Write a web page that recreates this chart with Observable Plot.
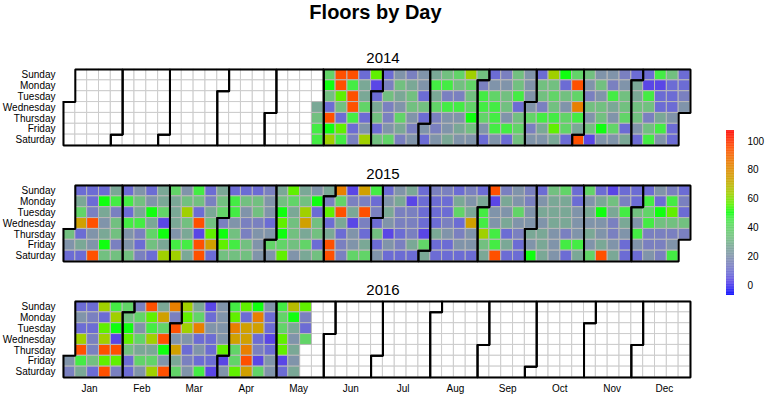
<!DOCTYPE html>
<html><head><meta charset="utf-8">
<script src="https://cdn.jsdelivr.net/npm/d3@7"></script>
<script src="https://cdn.jsdelivr.net/npm/@observablehq/plot@0.6"></script>
<style>
body{margin:0;background:#fff;}
#wrap{position:relative;width:767px;height:395px;overflow:hidden;font-family:"Liberation Sans",Arial,sans-serif;}
#title{position:absolute;left:0;top:1px;width:751px;text-align:center;font-weight:bold;font-size:20px;line-height:22px;}
#main{position:absolute;left:0;top:0;}
#legend{position:absolute;left:726px;top:120px;}
</style></head><body>
<div id="wrap"><div id="main"></div><div id="legend"></div><div id="title">Floors by Day</div></div>
<script>
const years = [2014, 2015, 2016];
const dayNames = ["Sunday","Monday","Tuesday","Wednesday","Thursday","Friday","Saturday"];
const monthNames = ["Jan","Feb","Mar","Apr","May","Jun","Jul","Aug","Sep","Oct","Nov","Dec"];
const legendTicks = [0, 20, 40, 60, 80, 100];

const start2014 = "2014-05-28";
const floors2014 = [
27,33,46,46,
40,50,33,8,95,50,63, 95,95,56,33,8,56,46, 95,46,95,95,46,8,14, 8,27,27,40,8,20,63,
56,2,8,27,33,8,33, 8,14,33,14,14,20,40, 20,33,27,20,40,27,14, 14,27,33,33,20,14,20,
20,20,8,33,8,20,8, 27,46,27,40,14,14,20, 33,46,14,46,20,20,27, 40,33,14,46,20,27,20,
63,40,33,40,50,33,20, 33,14,46,46,40,20,8, 8,20,40,46,46,46,20, 14,20,33,33,20,46,8,
33,33,46,8,33,40,33, 20,20,20,20,40,14,20, 8,33,33,14,46,27,20, 63,33,40,33,46,56,27,
50,8,33,20,40,40,8, 40,95,40,84,46,27,95, 33,20,14,33,20,33,2, 20,33,20,33,33,50,20,
20,14,46,27,20,40,20, 14,20,33,33,40,8,27, 8,27,27,33,33,20,8, 8,2,46,33,14,33,46,
46,2,8,8,27,46,20, 33,8,8,8,20,8,8,
8,8,14,20
];

const start2015 = "2015-01-01";
const floors2015 = [
33,20,8,
8,27,40,74,8,27,8, 8,8,14,95,20,20,95, 8,50,27,20,27,50,33, 27,46,14,33,33,14,33,
8,46,8,46,20,20,33, 20,33,27,46,14,8,14, 8,20,50,27,40,33,8, 27,27,40,2,50,27,63,
40,27,27,27,20,46,63, 20,33,63,33,27,46,27, 46,33,8,95,2,95,95, 8,14,27,33,56,74,8,
27,33,40,14,50,56,33, 8,46,46,20,33,46,33, 8,33,20,14,14,33,33, 8,33,33,14,20,20,20,
14,20,20,8,20,40,20, 27,33,50,56,50,40,56, 56,40,27,33,33,33,20, 27,33,63,74,27,40,27,
20,50,8,33,33,8,33, 27,14,56,8,27,95,95, 84,40,95,27,8,14,14, 2,14,27,2,20,20,40,
74,14,95,14,8,27,40, 46,8,14,8,33,8,20, 8,20,27,20,2,20,8, 20,27,14,14,8,14,8,
27,2,14,14,14,27,8, 8,8,8,8,2,40,27, 14,8,8,8,27,8,8, 14,8,8,14,20,8,8,
8,27,40,8,14,20,8, 14,20,27,74,20,20,8, 8,27,46,46,63,33,27, 95,2,20,20,46,46,95,
14,27,20,27,8,27,8, 20,20,40,20,14,8,8, 14,14,20,20,27,20,50, 8,20,27,20,27,27,27,
33,27,27,27,20,20,20, 40,27,27,27,14,46,8, 8,8,20,20,20,46,27, 40,20,27,20,27,20,40,
8,27,50,20,20,27,95, 2,33,27,14,14,20,27, 8,14,46,27,20,8,8, 8,8,33,20,46,20,8,
8,46,40,46,14,14,20, 20,8,50,33,14,14,14, 14,46,56,33,14,20,46,
8,14,8,33,14
];

const start2016 = "2016-01-01";
const floors2016 = [
20,14,
8,20,8,63,95,46,27, 8,14,8,14,14,33,8, 63,8,56,63,95,56,95, 46,63,50,2,95,56,14,
40,33,50,56,33,8,8, 14,40,20,40,27,40,20, 95,56,46,63,27,40,63, 27,74,40,95,50,20,95,
84,14,95,20,74,27,40, 63,56,63,20,8,14,20, 27,40,84,8,20,8,46, 2,8,20,8,8,8,2,
20,20,20,20,56,2,20, 46,56,84,74,40,40,56, 56,8,74,74,84,95,74, 50,84,74,8,14,2,40,
20,8,8,2,8,20,20, 46,40,40,56,56,2,8, 68,50,27,20,27,20,27,
56,14,8,40
];

const colorStops = [-7, 2, 8, 14, 20, 27, 33, 40, 46, 50, 56, 63, 74, 84, 95, 107.5];
const colorRange = ["#0000ff","#5a46e6","#6c6cd4","#7a80c0","#8094aa","#7aa896","#72c080","#62d468","#44ec44","#10ff10","#60f000","#a0d000","#d0a000","#e88000","#ff5000","#ff0000"];

// ---- build day cells ----
const valueByDay = new Map();
for (const [s, vals] of [[start2014, floors2014], [start2015, floors2015], [start2016, floors2016]]) {
  const d0 = new Date(s + "T00:00:00Z");
  vals.forEach((v, i) => valueByDay.set(+d3.utcDay.offset(d0, i), v));
}
const cells = [];
const outlines = [];
for (const y of years) {
  const jan1 = new Date(Date.UTC(y, 0, 1));
  const off = jan1.getUTCDay();
  const pos = d => ({week: Math.floor((d3.utcDay.count(jan1, d) + off) / 7), dow: d.getUTCDay()});
  for (const d of d3.utcDay.range(jan1, new Date(Date.UTC(y + 1, 0, 1)))) {
    const p = pos(d);
    cells.push({year: y, week: p.week, dow: p.dow, value: valueByDay.get(+d)});
  }
  for (let m = 0; m < 12; m++) {
    const a = pos(new Date(Date.UTC(y, m, 1)));
    const b = pos(new Date(Date.UTC(y, m + 1, 0)));
    const key = y + "-" + m;
    const pts = [
      [a.week, a.dow], [a.week + 1, a.dow], [a.week + 1, 0], [b.week + 1, 0],
      [b.week + 1, b.dow + 1], [b.week, b.dow + 1], [b.week, 7], [a.week, 7], [a.week, a.dow]
    ];
    for (const [x, yy] of pts) outlines.push({year: y, key, x, y: yy});
  }
}
const dayTicks = dayNames.map((n, i) => i + 0.5);
const monthTicks = monthNames.map((n, i) => (i + 0.5) * 53 / 12);

const colorOpts = {type: "linear", domain: colorStops, range: colorRange, interpolate: "rgb"};
const font = {fontFamily: "'Liberation Sans', Arial, sans-serif", fontSize: "10px", background: "transparent", overflow: "visible"};

const main = Plot.plot({
  width: 767, height: 395,
  marginLeft: 63, marginRight: 77, marginTop: 68, marginBottom: 18,
  style: font,
  x: {domain: [0, 53], axis: null},
  y: {domain: [0, 7], reverse: true, axis: null},
  fy: {domain: years, paddingInner: 0.349, paddingOuter: 0, axis: null},
  color: colorOpts,
  marks: [
    Plot.rect(cells.filter(c => c.value == null), {fy: "year", x1: "week", x2: d => d.week + 1, y1: "dow", y2: d => d.dow + 1, fill: "white", stroke: "#cccccc", strokeWidth: 1}),
    Plot.rect(cells.filter(c => c.value != null), {fy: "year", x1: "week", x2: d => d.week + 1, y1: "dow", y2: d => d.dow + 1, fill: "value", stroke: "#b8b8b8", strokeWidth: 1}),
    Plot.line(outlines, {fy: "year", x: "x", y: "y", z: "key", stroke: "black", strokeWidth: 2, strokeLinejoin: "miter", strokeLinecap: "square"}),
    Plot.text(years, {fy: d => d, text: d => String(d), frameAnchor: "top", lineAnchor: "middle", dy: -11, dx: 6, fontSize: 15}),
    Plot.axisY(dayTicks, {tickSize: 0, tickPadding: 8, tickFormat: d => dayNames[Math.floor(d)]}),
    Plot.axisX(monthTicks, {tickSize: 0, tickPadding: 7, tickFormat: d => monthNames[Math.round(d * 12 / 53 - 0.5)]})
  ]
});
document.getElementById("main").appendChild(main);

const ramp = d3.range(-7, 107.5, 0.5);
const legend = Plot.plot({
  width: 41, height: 185, marginLeft: 0, marginRight: 33, marginTop: 10, marginBottom: 10,
  style: font,
  y: {domain: [-7, 107.5], axis: null},
  color: colorOpts,
  marks: [
    Plot.rect(ramp, {y1: d => d, y2: d => Math.min(107.5, d + 0.6), fill: d => d}),
    Plot.axisY(legendTicks, {anchor: "right", tickSize: 0, tickPadding: 13})
  ]
});
document.getElementById("legend").appendChild(legend);
</script>
</body></html>
